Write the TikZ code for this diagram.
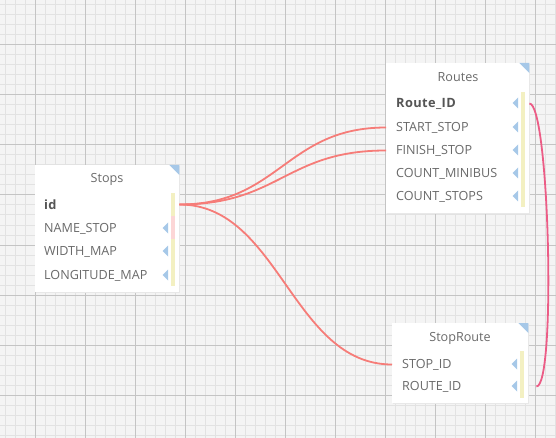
\documentclass[tikz,border=0pt]{standalone}
\usepackage{fontspec}
\setmainfont{Open Sans}
\definecolor{bgc}{HTML}{F4F4F4}
\definecolor{minorc}{HTML}{E2E2E2}
\definecolor{majorc}{HTML}{C4C4C4}
\definecolor{tric}{HTML}{A6C8E8}
\definecolor{ybarc}{HTML}{F3F0C2}
\definecolor{pbarc}{HTML}{FCD6D6}
\definecolor{txtc}{HTML}{6A6A6A}
\definecolor{boldc}{HTML}{555555}
\definecolor{linkc}{HTML}{F67C78}
\definecolor{selfc}{HTML}{EC5C86}
\begin{document}
\begin{tikzpicture}[x=1pt,y=-1pt,
  minorline/.style={draw=minorc, line width=1pt},
  majorline/.style={draw=majorc, line width=1pt},
  tbox/.style={fill=white, draw=none, inner sep=0pt, anchor=north west},
  shadowbox/.style={fill=black!9},
  titletxt/.style={text=txtc, font=\fontsize{12.6}{14}\selectfont, inner sep=0pt},
  rowtxt/.style={text=txtc, font=\fontsize{12.6}{14}\selectfont, inner sep=0pt, anchor=west},
  keytxt/.style={rowtxt, text=boldc, font=\fontsize{12.8}{14}\selectfont\bfseries\addfontfeature{LetterSpace=3}},
  tri/.style={fill=tric},
  ybar/.style={fill=ybarc},
  pbar/.style={fill=pbarc},
  link/.style={draw=linkc, line width=1.8pt},
  selflink/.style={draw=selfc, line width=1.8pt}]
\useasboundingbox (0,0) rectangle (556,438);
% background grid
\fill[bgc] (0,0) rectangle (556,438);
\foreach \x in {5,15,...,555} \draw[minorline] (\x,0) -- (\x,438);
\foreach \y in {5,15,...,435} \draw[minorline] (0,\y) -- (556,\y);
\foreach \x in {35,85,...,535} \draw[majorline] (\x,0) -- (\x,438);
\foreach \y in {45,95,...,435} \draw[majorline] (0,\y) -- (556,\y);

% ---------- Stops ----------
\fill[shadowbox] (35.5,166) rectangle (179.8,293);
\node[tbox, minimum width=144pt, minimum height=127pt] (stops) at (35,165) {};
\fill[tri] (stops.north east) -- ++(-10,0) -- ++(10,10) -- cycle;
\node[titletxt] (stops-t) at (107,179) {Stops};
\fill[ybar] (171,193) rectangle (175,286);
\fill[pbar] (171,216) rectangle (175,239);
\node[keytxt] (s-id) at (44,204.5) {id};
\node[rowtxt] (s-name) at (44,228.5) {NAME\_STOP};
\node[rowtxt] (s-width) at (44,251.5) {WIDTH\_MAP};
\node[rowtxt] (s-long) at (44,275.5) {LONGITUDE\_MAP};
\foreach \yy in {228,251,275} \fill[tri] (168,\yy-5.5) -- (168,\yy+5.5) -- (162.5,\yy) -- cycle;

% ---------- Routes ----------
\fill[shadowbox] (386.5,64) rectangle (529.8,214);
\node[tbox, minimum width=143pt, minimum height=150pt] (routes) at (386,63) {};
\fill[tri] (routes.north east) -- ++(-10,0) -- ++(10,10) -- cycle;
\node[titletxt] (routes-t) at (458,77.5) {Routes};
\fill[ybar] (521,92) rectangle (525,207);
\node[keytxt] (r-id) at (396,103.5) {Route\_ID};
\node[rowtxt] (r-start) at (396,127.5) {START\_STOP};
\node[rowtxt] (r-finish) at (396,150.5) {FINISH\_STOP};
\node[rowtxt] (r-minibus) at (396,173.5) {COUNT\_MINIBUS};
\node[rowtxt] (r-stops) at (396,196.5) {COUNT\_STOPS};
\foreach \yy in {103,127,150,173,196} \fill[tri] (518,\yy-5.5) -- (518,\yy+5.5) -- (512.5,\yy) -- cycle;

% ---------- StopRoute ----------
\fill[shadowbox] (392.5,324) rectangle (528.8,404);
\node[tbox, minimum width=136pt, minimum height=80pt] (sroute) at (392,323) {};
\fill[tri] (sroute.north east) -- ++(-10,0) -- ++(10,10) -- cycle;
\node[titletxt] (sroute-t) at (460,338.5) {StopRoute};
\fill[ybar] (520,351) rectangle (524,398);
\node[rowtxt] (sr-stop) at (402,364.5) {STOP\_ID};
\node[rowtxt] (sr-route) at (402,386.5) {ROUTE\_ID};
\foreach \yy in {364,386} \fill[tri] (517,\yy-5.5) -- (517,\yy+5.5) -- (511.5,\yy) -- cycle;

% ---------- connectors ----------
\draw[link] (s-id -| stops.east) .. controls +(100,0) and +(-100,0) .. (r-start -| routes.west);
\draw[link] (s-id -| stops.east) .. controls +(100,0) and +(-100,0) .. (r-finish -| routes.west);
\draw[link] (s-id -| stops.east) .. controls +(100,0) and +(-100,0) .. (sr-stop -| sroute.west);
\coordinate (sr-route-end) at ([xshift=8pt]sr-route -| sroute.east);
\draw[selflink] (r-id -| routes.east) .. controls +(20,0) and +(20,0) .. (sr-route-end);
\end{tikzpicture}
\end{document}
